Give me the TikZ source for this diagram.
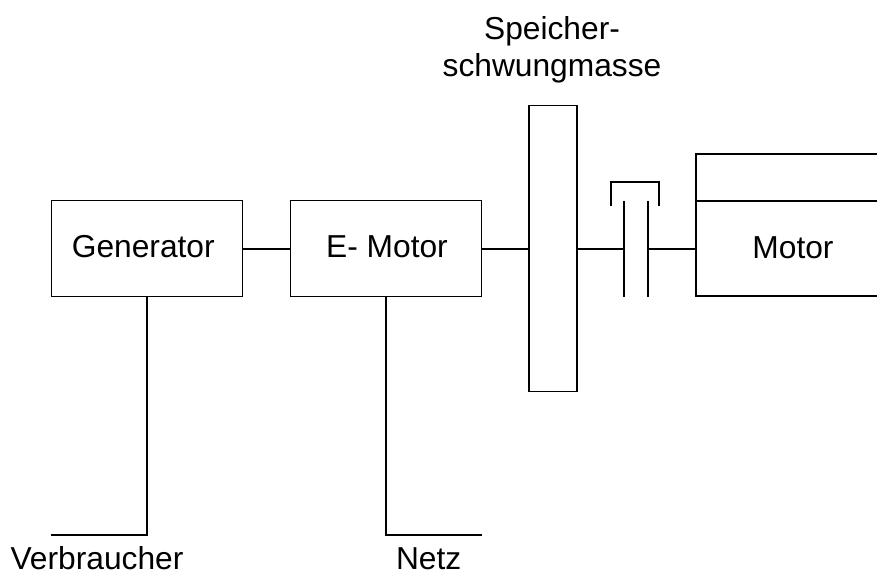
\documentclass[tikz,border=0pt]{standalone}
\usepackage{fontspec}
\setmainfont{Liberation Sans}
\tikzset{
  blockbox/.style={draw,line width=0.9pt,minimum width=143.5pt,minimum height=71.5pt,inner sep=0pt,text depth=3pt,font=\fontsize{23.8}{28}\selectfont},
  lbl/.style={inner sep=0pt,anchor=base,font=\fontsize{23.8}{27.8}\selectfont,align=center},
  wire/.style={line width=1.5pt}
}
\begin{document}
\begin{tikzpicture}[x=0.75pt,y=-0.75pt]
\useasboundingbox (0,0) rectangle (877,572);
\node[blockbox] (gen) at (147,248.5) {Generator\kern5.6pt\relax};
\node[blockbox] (emot) at (386,248.5) {\hspace{1.5pt}E- Motor};
\node[draw,line width=0.9pt,minimum width=36pt,minimum height=214.5pt,inner sep=0pt] (mass) at (553,248.5) {};
\coordinate (motTL) at (696,201);
\coordinate (motBL) at (696,296);
\coordinate (motTR) at (877,201);
\coordinate (motBR) at (877,296);
\coordinate (motUL) at (696,154);
\coordinate (motUR) at (877,154);
\draw[line width=0.9pt] (motTR) -- (motTL) -- (motBL) -- (motBR);
\draw[wire] (motTL) -- (motUL) -- (motUR);
\node[lbl] (motlbl) at (793,258) {Motor};
\coordinate (cla) at (624,201);
\coordinate (clb) at (624,296.5);
\coordinate (clc) at (648,201);
\coordinate (cld) at (648,296.5);
\draw[wire] (cla) -- (clb);
\draw[wire] (clc) -- (cld);
\coordinate (brA) at (611,205.5);
\coordinate (brB) at (611,182);
\coordinate (brC) at (659,182);
\coordinate (brD) at (659,205.5);
\draw[wire] (brA) -- (brB) -- (brC) -- (brD);
\draw[wire] (gen.east) -- (emot.west);
\draw[wire] (emot.east) -- (mass.west);
\draw[wire] (mass.east) -- (cla |- mass.east);
\draw[wire] (clc |- mass.east) -- (motTL |- mass.east);
\coordinate (v2) at (51,534.5);
\draw[wire] (gen.south) -- (gen.south |- v2) -- (v2);
\coordinate (n2) at (481.5,534.5);
\draw[wire] (emot.south) -- (emot.south |- n2) -- (n2);
\node[lbl] (vlbl) at (97,569.5) {Verbraucher};
\node[lbl] (nlbl) at (428.7,569.5) {Netz};
\node[lbl] (slbl1) at (552,39) {Speicher-};
\node[lbl] (slbl2) at (552,76) {schwungmasse};
\end{tikzpicture}
\end{document}
